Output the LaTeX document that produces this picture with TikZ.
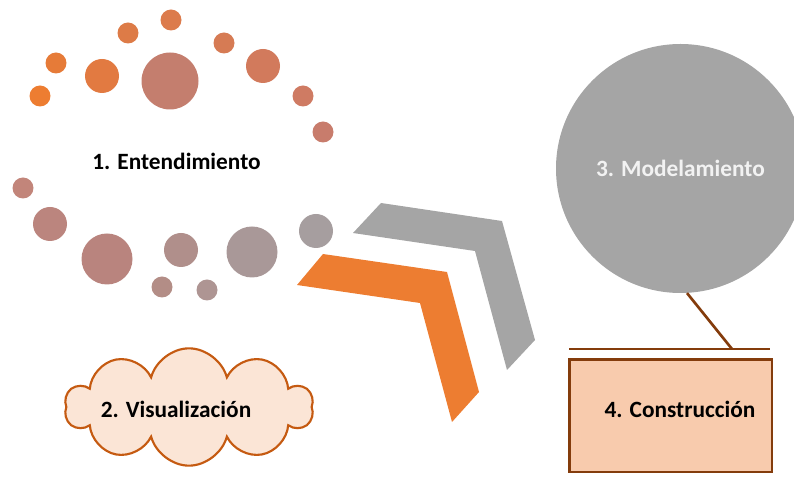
\documentclass[tikz,border=0pt]{standalone}
\usepackage{fontspec}
\setmainfont{Carlito}
\usetikzlibrary{shapes.symbols}
% colores
\definecolor{naranja}{HTML}{ED7D31}
\definecolor{gris}{HTML}{A5A5A5}
\definecolor{marron}{HTML}{843C0C}
\definecolor{borde}{HTML}{C55A11}
\definecolor{nube}{HTML}{FBE5D6}
\definecolor{salmon}{HTML}{F8CBAD}
\definecolor{blanco}{HTML}{F2F2F2}
\definecolor{dot1}{HTML}{ED7D31}
\definecolor{dot2}{HTML}{E67B38}
\definecolor{dot3}{HTML}{E27A41}
\definecolor{dot4}{HTML}{DD7B47}
\definecolor{dot5}{HTML}{DC7B4C}
\definecolor{dot6}{HTML}{C47E6E}
\definecolor{dot7}{HTML}{D67B54}
\definecolor{dot8}{HTML}{D27A5C}
\definecolor{dot9}{HTML}{CF7B63}
\definecolor{dot10}{HTML}{C87C6C}
\definecolor{dot11}{HTML}{C2857A}
\definecolor{dot12}{HTML}{BB857E}
\definecolor{dot13}{HTML}{B9847E}
\definecolor{dot14}{HTML}{B08F8B}
\definecolor{dot15}{HTML}{B38D86}
\definecolor{dot16}{HTML}{AE9593}
\definecolor{dot17}{HTML}{A99898}
\definecolor{dot18}{HTML}{A69E9F}
\tikzset{
  dot/.style={circle,inner sep=0pt,draw=none},
  etiqueta/.style={font=\fontsize{17.5}{20}\selectfont\bfseries,inner sep=0pt},
  linea/.style={draw=marron,line width=2pt}
}

\begin{document}
\begin{tikzpicture}[x=0.75pt,y=-0.75pt,line join=miter]
  \useasboundingbox (0,0) rectangle (794,488);
%%
  % Node: circulos de entendimiento
  \foreach \n/\px/\py/\r in {1/40/96/10.5,2/56/63/10.5,3/102/76/17,4/128/33/10.5,
      5/171/20/10.5,6/170/81/28.5,7/224/43/10.5,8/263/66/17,9/303/96/10.5,
      10/323/132/10.5,11/23/188/10.5,12/50/224/17,13/107/259/25.5,14/181/250/17,
      15/162/287/10.5,16/207/290/10.5,17/252/252/25.5,18/316/231/17}
    \node[dot,fill=dot\n,minimum size=\r*1.5pt] (c\n) at (\px,\py) {};
  \node[etiqueta] (ent) at (176.5,161) {1. Entendimiento};
  % Node: flechas
  \fill[gris] (353,233) -- (381,203) -- (502,221) -- (535,340) -- (507,370) -- (475,251) -- cycle;
  \fill[naranja] (297,285) -- (323,254) -- (447,272) -- (479,392) -- (452,422) -- (420,303) -- cycle;
  % Node: modelamiento
  \node[dot,fill=gris,minimum size=186.75pt,text=blanco,font=\fontsize{17.5}{20}\selectfont\bfseries]
    (modelo) at (680.5,168.5) {3. Modelamiento};
  % Node: visualizacion
  \node[cloud,cloud puffs=10,aspect=2.2,draw=borde,fill=nube,line width=1.6pt,
    minimum width=186pt,minimum height=88pt] (vis) at (189,407) {};
  \node[etiqueta] (vistxt) at (176,409) {2. Visualización};
  % Node: construccion
  \node[linea,fill=salmon,minimum width=152pt,minimum height=84.5pt,anchor=north west,inner sep=0pt]
    (cons) at (568,358) {};
  \node[etiqueta] (constxt) at (680,409) {4. Construcción};
  % Edge: modelamiento -> barra
  \coordinate (barraL) at (569,349);
  \coordinate (barraR) at (770,349);
  \coordinate (pie) at (732,349);
  \draw[linea] (barraL) -- (barraR);
  \draw[linea] (modelo.-87) -- (pie);
%
\end{tikzpicture}
\end{document}
